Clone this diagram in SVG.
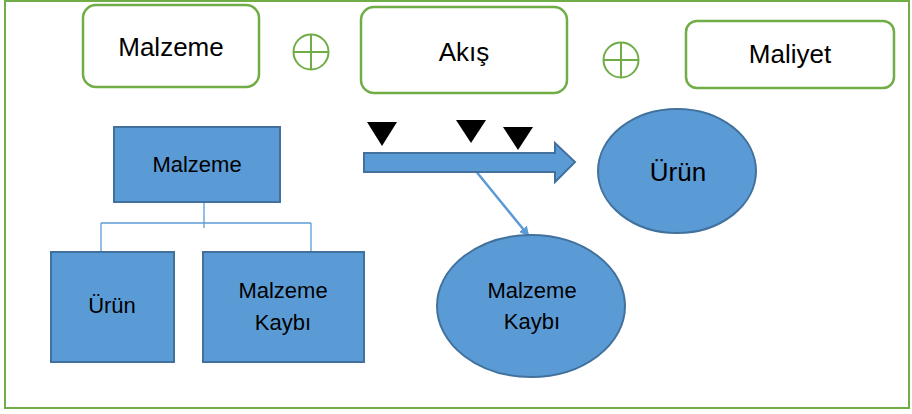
<svg xmlns="http://www.w3.org/2000/svg" width="912" height="414" viewBox="0 0 912 414">
  <defs>
    <style>
      .frame { fill: #ffffff; stroke: #70ad47; stroke-width: 2; }
      .tag { fill: #ffffff; stroke: #70ad47; stroke-width: 2.5; }
      .plus { fill: none; stroke: #70ad47; stroke-width: 2; }
      .blue { fill: #5b9bd5; stroke: #41719c; stroke-width: 2; }
      .tree { fill: none; stroke: #5b9bd5; stroke-width: 1.3; }
      .mark { fill: #000000; }
      text { font-family: "Liberation Sans", Arial, sans-serif; fill: #000000; text-anchor: middle; }
      .big { font-size: 26px; }
      .mid { font-size: 22px; }
    </style>
    <marker id="tip" markerWidth="10" markerHeight="10" refX="8" refY="5" orient="auto" markerUnits="userSpaceOnUse">
      <path d="M0,0 L10,5 L0,10 Z" fill="#5b9bd5"/>
    </marker>
  </defs>

  <!-- outer frame -->
  <rect class="frame" x="5" y="1" width="904" height="407"/>

  <!-- top row: Malzeme + Akış + Maliyet -->
  <g id="top-malzeme">
    <rect class="tag" x="83" y="5" width="176" height="82" rx="13"/>
    <text class="big" x="171" y="56">Malzeme</text>
  </g>
  <g id="plus-1">
    <circle class="plus" cx="311" cy="52" r="17.5"/>
    <path class="plus" d="M293.5,52 H328.5 M311,34.5 V69.5"/>
  </g>
  <g id="top-akis">
    <rect class="tag" x="361" y="7" width="206" height="86" rx="13"/>
    <text class="big" x="464" y="61">Akış</text>
  </g>
  <g id="plus-2">
    <circle class="plus" cx="621" cy="60" r="17.5"/>
    <path class="plus" d="M603.5,60 H638.5 M621,42.5 V77.5"/>
  </g>
  <g id="top-maliyet">
    <rect class="tag" x="686" y="21" width="208" height="67" rx="11"/>
    <text class="big" x="790" y="63">Maliyet</text>
  </g>

  <!-- connectors -->
  <g id="connectors">
    <path class="tree" d="M204,202 V228 M101,223 H311 M101,223 V252 M311,223 V252"/>
    <line x1="475" y1="170" x2="528" y2="235" stroke="#5b9bd5" stroke-width="2.5" marker-end="url(#tip)"/>
  </g>

  <!-- tree: Malzeme -> Ürün, Malzeme Kaybı -->
  <g id="tree-malzeme">
    <rect class="blue" x="114" y="127" width="166" height="75"/>
    <text class="mid" x="197" y="172">Malzeme</text>
  </g>
  <g id="tree-urun">
    <rect class="blue" x="51" y="252" width="123" height="110"/>
    <text class="mid" x="112" y="313">Ürün</text>
  </g>
  <g id="tree-kayip">
    <rect class="blue" x="203" y="252" width="161" height="110"/>
    <text class="mid" x="283" y="298">Malzeme</text>
    <text class="mid" x="283" y="330">Kaybı</text>
  </g>

  <!-- flow arrow with markers -->
  <g id="flow">
    <path class="blue" d="M364,153 H555 V143 L575,162 L555,182 V172 H364 Z"/>
    <path class="mark" d="M367,122 H397 L382,146 Z"/>
    <path class="mark" d="M456,120 H486 L471,143 Z"/>
    <path class="mark" d="M503,127 H533 L518,150 Z"/>
  </g>

  <g id="out-urun">
    <ellipse class="blue" cx="677" cy="171" rx="79" ry="62"/>
    <text class="big" x="678" y="181">Ürün</text>
  </g>
  <g id="out-kayip">
    <ellipse class="blue" cx="531" cy="306" rx="94" ry="71"/>
    <text class="mid" x="532" y="298">Malzeme</text>
    <text class="mid" x="532" y="329">Kaybı</text>
  </g>
</svg>
